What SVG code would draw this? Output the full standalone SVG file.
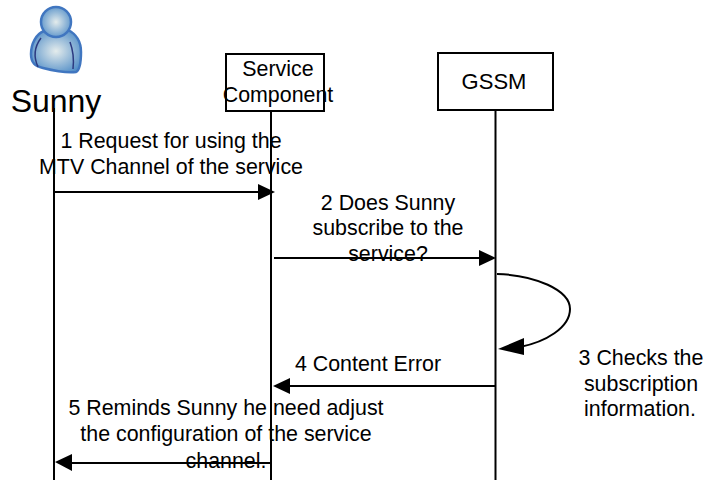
<svg xmlns="http://www.w3.org/2000/svg" width="706" height="480" viewBox="0 0 706 480">
<style>
text{font-family:"Liberation Sans",Arial,sans-serif;font-size:21.400px;fill:#000;text-anchor:middle}
.box{fill:#fff;stroke:#000;stroke-width:2}
.life{fill:none;stroke:#000;stroke-width:2}
.msg{fill:none;stroke:#000;stroke-width:2}
.head{fill:#000;stroke:none}
</style>
<defs>
<radialGradient id="g" cx="50%" cy="50%" r="58%"><stop offset="0" stop-color="#e4ecec"/><stop offset="1" stop-color="#5590c8"/></radialGradient>
</defs>
<rect width="706" height="480" fill="#fff"/>
<g id="sunny">
<path d="M44 31C36 34 31 44 31 54C31 63 35 66 43 68C55 71 68 73 76 72C80 70 81 62 81 52C81 42 76 34 68 30C60 38 50 37 44 31Z" fill="url(#g)" stroke="#4076c0" stroke-width="2.500"/>
<circle cx="56" cy="22" r="15" fill="url(#g)" stroke="#4076c0" stroke-width="2.500"/>
<path d="M41 38C35 46 33 56 38 67M70 42C73 50 74 60 73 69" fill="none" stroke="#2c3a80" stroke-width="1.500"/>
<text x="56" y="112" style="font-size:32px">Sunny</text>
</g>
<g id="service-component">
<rect class="box" x="226" y="54" width="98" height="57"/>
<text x="278" y="76">Service</text>
<text x="278" y="102">Component</text>
</g>
<g id="gssm">
<rect class="box" x="438" y="53" width="115" height="57"/>
<text x="494" y="89" style="font-size:22px">GSSM</text>
</g>
<g id="connectors">
<path class="life" d="M54 108V480M271 111V480M495.500 110V480"/>
<path class="msg" d="M55 192H262"/><path class="head" d="M275 192L258 184V200Z"/>
<path class="msg" d="M274 258H484"/><path class="head" d="M496 258L479 250V266Z"/>
<path class="msg" d="M497 274C535 275 570 290 570 309C570 328 545 342 520 347"/><path class="head" d="M498 349L524 338L524 355Z"/>
<path class="msg" d="M495 386H286"/><path class="head" d="M273 386L290 378V394Z"/>
<path class="msg" d="M270 463H66"/><path class="head" d="M55 462L72 454V471Z"/>
</g>
<g id="labels">
<text x="171" y="148">1 Request for using the</text>
<text x="171" y="174">MTV Channel of the service</text>
<text x="388" y="210">2 Does Sunny</text>
<text x="388" y="235">subscribe to the</text>
<text x="388" y="261">service?</text>
<text x="641" y="365">3 Checks the</text>
<text x="641" y="391">subscription</text>
<text x="640" y="416">information.</text>
<text x="368" y="371">4 Content Error</text>
<text x="226" y="415">5 Reminds Sunny he need adjust</text>
<text x="226" y="441">the configuration of the service</text>
<text x="226" y="468">channel.</text>
</g>
</svg>
